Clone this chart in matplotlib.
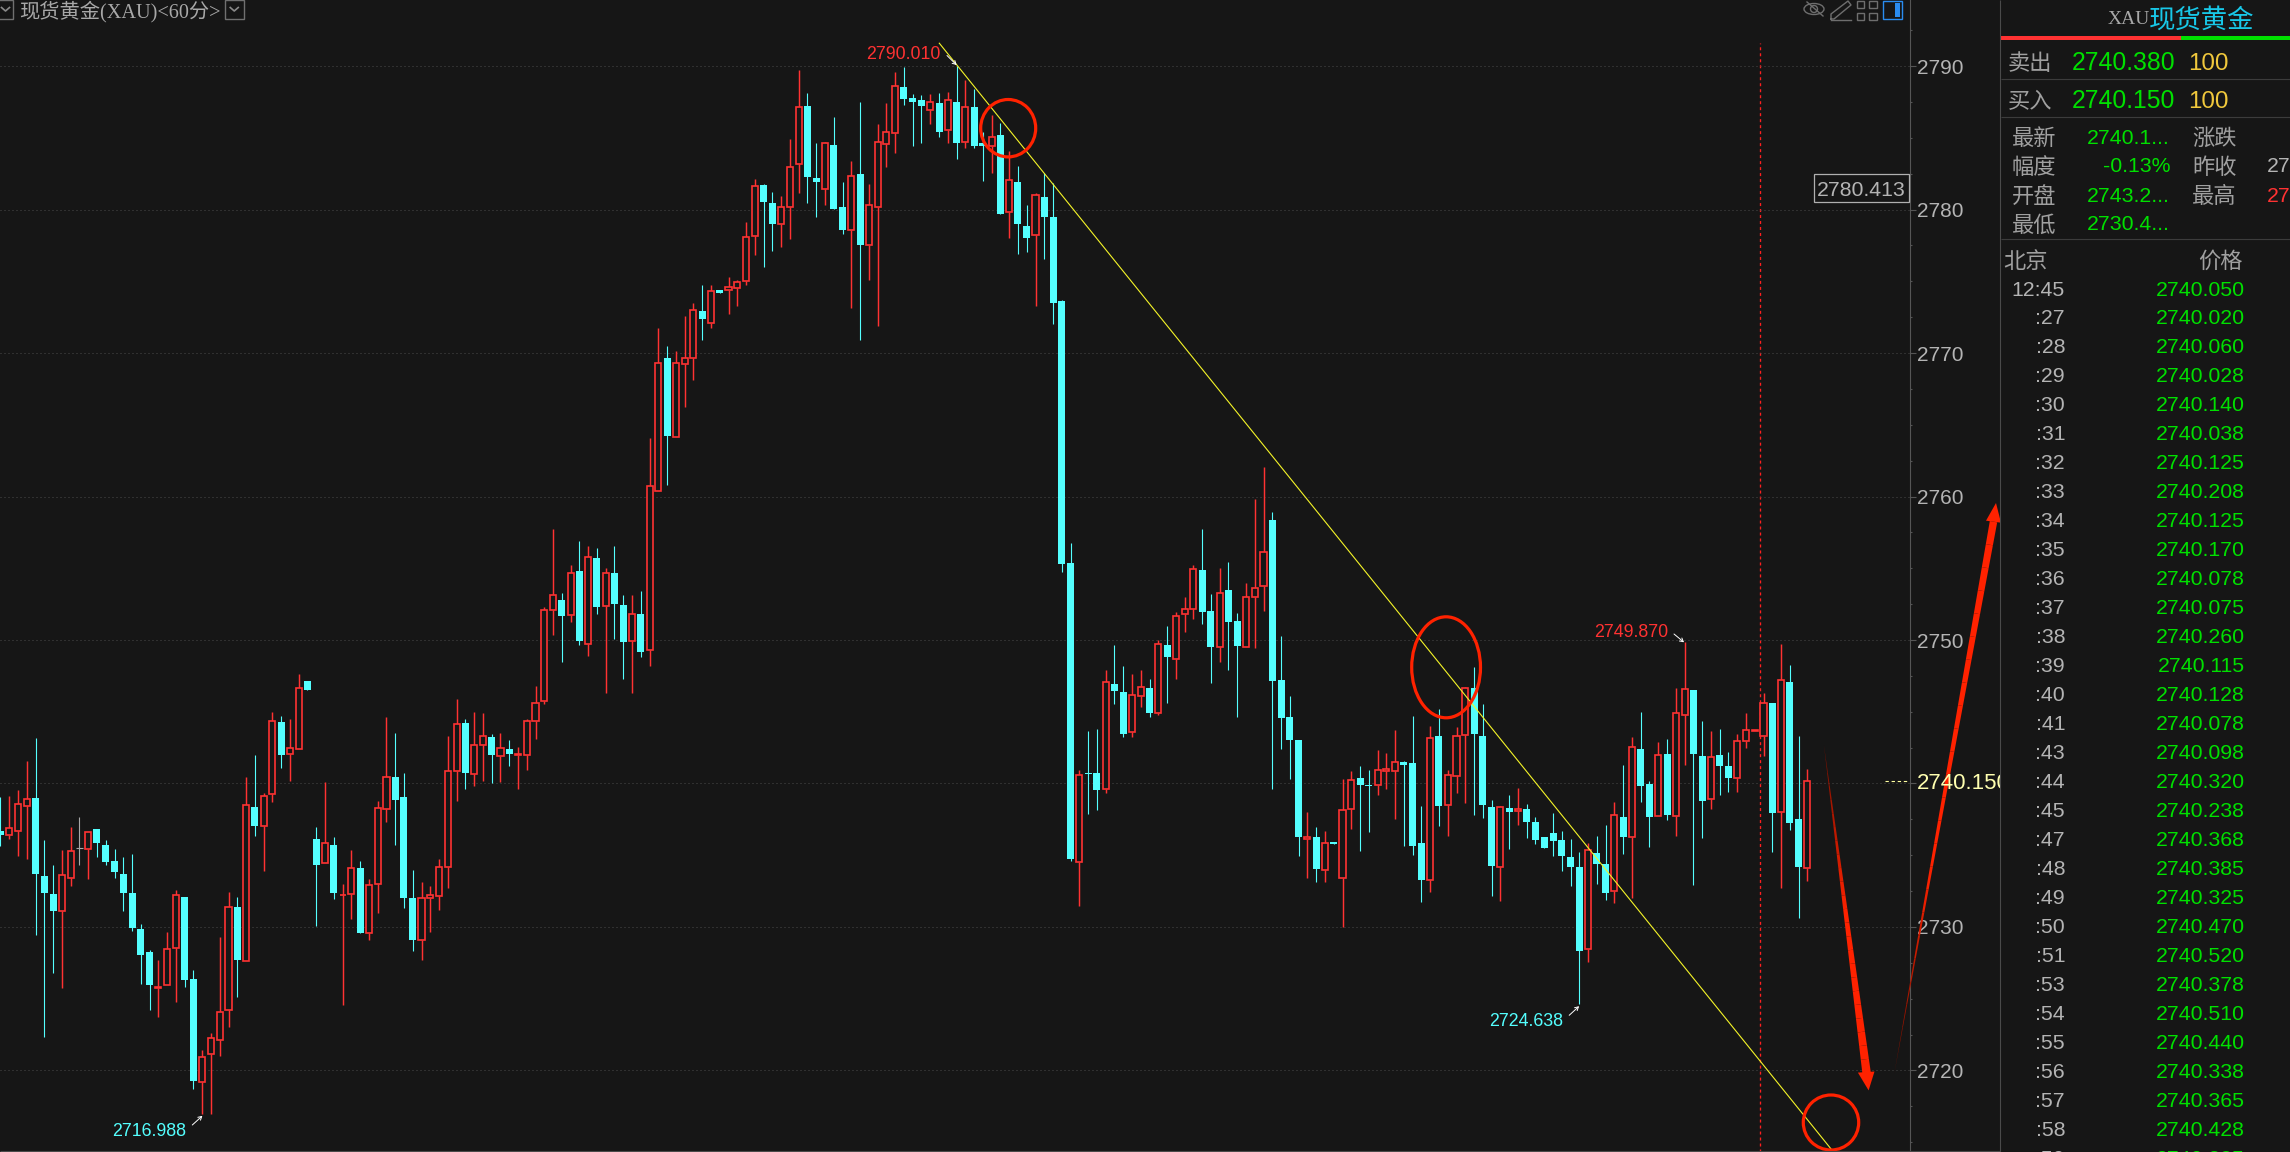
import numpy as np
import matplotlib
matplotlib.use("Agg")
import matplotlib.pyplot as plt
from matplotlib.patches import Ellipse, Rectangle, Polygon
from matplotlib.ticker import FuncFormatter, MultipleLocator

# figure size in pixels
W, H = 2290, 1152
DPI = 100

BG = "#161616"
RED = "#ff3232"
CYAN = "#54ffff"
GREEN = "#00e000"
GRAY = "#b4b4b4"
LINE = "#444444"
MARK = "#ff2200"

LATIN = ["Liberation Sans", "Noto Sans CJK SC"]
CJK = ["Noto Sans CJK SC", "Liberation Sans"]
SERIF = ["Liberation Serif", "Noto Sans CJK SC"]

plt.rcParams["font.family"] = LATIN
plt.rcParams["ytick.alignment"] = "center_baseline"

# 60 minute candles
opens = [
    2736.66, 2736.43, 2736.66, 2738.40, 2739.01, 2733.56, 2732.31, 2731.09, 2733.41, 2735.50,
    2735.47, 2736.81, 2735.73, 2734.60, 2733.70, 2732.37, 2729.87, 2728.28, 2725.75, 2725.93,
    2728.51, 2732.11, 2726.39, 2719.17, 2721.12, 2722.10, 2724.19, 2731.41, 2727.61, 2738.37,
    2737.01, 2739.24, 2744.32, 2742.05, 2742.37, 2747.16, 2736.14, 2734.43, 2735.73, 2732.20,
    2732.28, 2734.14, 2729.61, 2732.98, 2738.20, 2740.46, 2739.07, 2732.02, 2729.06, 2732.05,
    2732.19, 2734.17, 2740.87, 2744.23, 2740.63, 2742.66, 2743.27, 2741.91, 2742.43, 2742.00,
    2741.97, 2744.35, 2745.74, 2752.09, 2752.81, 2751.74, 2754.84, 2749.71, 2755.68, 2752.38,
    2754.70, 2752.47, 2749.94, 2751.83, 2749.30, 2760.39, 2769.63, 2764.15, 2769.26, 2769.66,
    2772.91, 2772.08, 2774.42, 2774.40, 2774.56, 2775.01, 2778.15, 2781.72, 2780.47, 2779.01,
    2780.18, 2783.16, 2787.23, 2782.23, 2781.43, 2784.52, 2780.20, 2778.55, 2782.44, 2777.54,
    2780.18, 2784.57, 2785.34, 2788.54, 2787.77, 2787.63, 2786.94, 2787.45, 2785.53, 2787.50,
    2784.70, 2787.13, 2784.65, 2784.41, 2785.16, 2779.83, 2781.93, 2778.82, 2778.23, 2780.90,
    2779.48, 2773.65, 2755.36, 2734.52, 2740.76, 2740.76, 2739.60, 2746.95, 2746.39, 2743.56,
    2746.09, 2746.67, 2744.88, 2749.66, 2748.66, 2751.79, 2752.14, 2754.88, 2752.02, 2749.54,
    2753.48, 2751.33, 2749.54, 2752.97, 2753.74, 2758.35, 2747.23, 2744.65, 2743.05, 2736.15,
    2736.24, 2733.97, 2735.89, 2733.41, 2738.23, 2740.41, 2739.90, 2739.88, 2740.85, 2740.85,
    2741.52, 2741.45, 2735.82, 2733.29, 2743.33, 2738.49, 2740.53, 2743.35, 2746.67, 2743.33,
    2738.39, 2734.20, 2738.32, 2738.09, 2738.25, 2737.35, 2736.24, 2736.52, 2736.03, 2734.85,
    2734.20, 2728.45, 2735.15, 2734.36, 2732.52, 2737.70, 2736.26, 2742.43, 2739.96, 2737.73,
    2742.09, 2737.73, 2744.77, 2746.53, 2741.93, 2738.91, 2742.01, 2741.25, 2740.36, 2742.96,
    2743.69, 2743.30, 2745.64, 2737.99, 2747.08, 2737.54, 2734.13,
]
highs = [
    2739.04, 2739.15, 2739.56, 2741.59, 2743.19, 2736.08, 2734.34, 2735.35, 2736.95, 2737.68,
    2736.60, 2736.81, 2736.08, 2735.44, 2734.89, 2735.09, 2730.22, 2728.39, 2727.73, 2729.67,
    2732.60, 2732.11, 2727.00, 2721.43, 2722.60, 2729.32, 2732.45, 2732.11, 2740.43, 2742.00,
    2739.33, 2745.01, 2744.72, 2744.46, 2747.65, 2747.16, 2736.98, 2740.11, 2736.28, 2733.01,
    2735.38, 2734.60, 2733.35, 2738.81, 2744.66, 2743.53, 2740.75, 2733.99, 2733.15, 2732.83,
    2734.75, 2743.33, 2745.91, 2744.52, 2745.01, 2744.93, 2743.47, 2743.53, 2743.04, 2742.55,
    2744.49, 2746.81, 2752.32, 2757.77, 2753.31, 2755.22, 2756.87, 2756.58, 2756.44, 2755.02,
    2756.53, 2753.13, 2753.13, 2753.42, 2764.06, 2771.71, 2770.51, 2770.16, 2772.56, 2773.49,
    2774.77, 2774.77, 2774.42, 2775.30, 2775.12, 2779.16, 2782.15, 2781.80, 2781.24, 2780.95,
    2784.94, 2789.74, 2788.14, 2784.60, 2784.73, 2786.46, 2781.93, 2783.35, 2787.50, 2781.80,
    2785.98, 2787.45, 2789.60, 2789.92, 2788.06, 2788.00, 2788.06, 2788.14, 2788.22, 2790.01,
    2789.04, 2788.43, 2785.37, 2786.59, 2786.04, 2784.06, 2783.05, 2780.28, 2781.16, 2782.57,
    2781.88, 2773.70, 2756.75, 2740.94, 2743.68, 2743.82, 2747.92, 2749.66, 2748.20, 2747.64,
    2747.92, 2747.30, 2749.98, 2750.98, 2751.93, 2753.00, 2755.22, 2757.73, 2753.21, 2755.00,
    2755.43, 2751.89, 2753.97, 2759.81, 2762.08, 2758.91, 2750.29, 2746.11, 2743.05, 2738.02,
    2737.00, 2736.70, 2735.89, 2740.34, 2740.90, 2741.25, 2740.97, 2742.34, 2742.15, 2743.75,
    2741.59, 2744.72, 2738.44, 2744.00, 2745.21, 2740.94, 2743.93, 2746.74, 2748.11, 2745.53,
    2738.88, 2738.44, 2739.23, 2739.69, 2738.58, 2737.70, 2736.24, 2737.91, 2736.70, 2736.10,
    2735.23, 2735.86, 2736.31, 2737.12, 2738.73, 2741.30, 2743.27, 2745.00, 2740.20, 2742.90,
    2743.11, 2746.66, 2749.87, 2746.53, 2744.35, 2743.67, 2743.82, 2742.19, 2743.46, 2744.93,
    2743.72, 2746.29, 2745.64, 2749.71, 2748.27, 2743.30, 2741.01,
]
lows = [
    2735.64, 2736.14, 2734.98, 2734.72, 2729.41, 2722.36, 2726.80, 2725.73, 2732.83, 2734.34,
    2733.33, 2734.89, 2734.34, 2733.44, 2731.09, 2729.70, 2726.05, 2724.25, 2723.76, 2725.93,
    2724.77, 2725.84, 2718.68, 2716.99, 2717.00, 2721.00, 2723.03, 2725.12, 2727.61, 2736.37,
    2733.91, 2738.69, 2741.10, 2740.20, 2742.37, 2746.55, 2730.08, 2734.43, 2731.96, 2724.57,
    2730.57, 2729.61, 2729.06, 2730.98, 2737.33, 2735.73, 2731.32, 2728.34, 2727.73, 2729.64,
    2731.15, 2732.75, 2738.75, 2739.59, 2739.85, 2740.20, 2740.02, 2740.11, 2741.24, 2739.59,
    2740.95, 2743.13, 2745.51, 2750.38, 2748.49, 2751.22, 2749.62, 2748.90, 2751.83, 2746.29,
    2750.09, 2747.25, 2746.32, 2748.84, 2748.20, 2760.39, 2760.79, 2764.15, 2766.25, 2768.11,
    2770.91, 2771.73, 2774.18, 2772.72, 2773.28, 2774.74, 2776.82, 2775.99, 2777.09, 2777.38,
    2777.94, 2781.14, 2780.44, 2779.46, 2780.31, 2780.02, 2778.29, 2773.12, 2770.91, 2775.09,
    2771.87, 2782.95, 2783.93, 2787.26, 2784.41, 2784.65, 2785.93, 2785.02, 2784.62, 2783.51,
    2784.28, 2784.28, 2781.96, 2782.52, 2779.67, 2777.99, 2776.90, 2777.03, 2773.28, 2776.58,
    2772.03, 2754.77, 2734.59, 2731.46, 2737.84, 2738.14, 2739.37, 2745.56, 2743.22, 2743.26,
    2745.30, 2744.65, 2744.75, 2745.63, 2747.30, 2750.59, 2751.47, 2751.12, 2747.02, 2748.50,
    2747.92, 2744.65, 2749.54, 2749.45, 2752.00, 2739.65, 2742.43, 2740.30, 2734.92, 2733.39,
    2733.11, 2733.11, 2735.77, 2729.98, 2736.86, 2735.27, 2736.59, 2739.23, 2739.60, 2737.56,
    2735.61, 2734.99, 2731.72, 2732.41, 2737.07, 2736.31, 2739.37, 2738.63, 2737.79, 2737.63,
    2732.16, 2731.81, 2735.47, 2737.10, 2736.17, 2735.75, 2735.50, 2734.92, 2733.87, 2732.85,
    2724.64, 2727.53, 2732.97, 2731.87, 2731.66, 2735.07, 2731.99, 2738.73, 2735.55, 2737.73,
    2737.44, 2736.33, 2741.27, 2732.92, 2736.23, 2738.20, 2739.22, 2739.43, 2739.43, 2742.46,
    2743.69, 2741.91, 2735.20, 2732.71, 2736.75, 2730.61, 2733.18,
]
closes = [
    2736.43, 2736.89, 2738.57, 2738.92, 2733.67, 2732.34, 2731.09, 2733.62, 2735.27, 2735.50,
    2736.60, 2735.82, 2734.54, 2733.82, 2732.34, 2729.90, 2728.08, 2725.93, 2725.79, 2728.45,
    2732.22, 2726.28, 2719.29, 2720.97, 2722.25, 2724.05, 2731.38, 2727.67, 2738.49, 2737.01,
    2739.13, 2744.35, 2741.97, 2742.46, 2746.64, 2746.55, 2734.34, 2735.85, 2732.37, 2732.25,
    2734.11, 2729.61, 2732.92, 2738.28, 2740.43, 2738.84, 2732.00, 2729.12, 2732.00, 2732.22,
    2734.17, 2740.87, 2744.14, 2740.72, 2742.66, 2743.30, 2741.97, 2742.46, 2742.03, 2742.03,
    2744.35, 2745.59, 2752.09, 2753.13, 2751.65, 2754.67, 2749.91, 2755.80, 2752.32, 2754.67,
    2752.49, 2749.86, 2751.80, 2749.16, 2760.70, 2769.31, 2764.22, 2769.31, 2769.66, 2773.01,
    2772.37, 2774.34, 2774.18, 2774.61, 2774.96, 2778.10, 2781.64, 2780.50, 2778.98, 2780.18,
    2782.97, 2787.13, 2782.25, 2781.91, 2784.62, 2780.02, 2778.55, 2782.33, 2777.51, 2780.31,
    2784.70, 2785.40, 2788.59, 2787.69, 2787.47, 2787.18, 2787.47, 2785.37, 2787.63, 2784.62,
    2787.13, 2784.41, 2784.41, 2785.05, 2779.67, 2782.07, 2778.98, 2777.99, 2781.00, 2779.46,
    2773.49, 2755.30, 2734.71, 2740.62, 2740.64, 2739.53, 2747.06, 2746.48, 2743.47, 2746.16,
    2746.72, 2744.93, 2749.71, 2748.82, 2751.65, 2752.14, 2754.92, 2751.96, 2749.52, 2753.25,
    2751.26, 2749.59, 2752.97, 2753.60, 2756.10, 2747.11, 2744.58, 2743.05, 2736.26, 2736.29,
    2734.04, 2735.87, 2735.77, 2738.16, 2740.25, 2739.88, 2739.85, 2740.94, 2741.01, 2741.50,
    2741.32, 2735.61, 2733.27, 2743.17, 2738.42, 2740.60, 2743.31, 2746.65, 2743.42, 2738.49,
    2734.25, 2738.37, 2738.00, 2738.23, 2737.30, 2736.03, 2735.50, 2735.96, 2734.94, 2734.15,
    2728.32, 2735.36, 2734.42, 2732.39, 2737.81, 2736.26, 2742.54, 2739.80, 2737.70, 2741.98,
    2737.83, 2744.90, 2746.58, 2742.04, 2738.80, 2741.85, 2741.20, 2740.36, 2742.96, 2743.72,
    2743.72, 2745.61, 2737.91, 2747.21, 2737.23, 2734.15, 2740.17,
]

# trend line end points (candle number, price)
trend_x = [107.03, 208.7]
trend_y = [2791.59, 2714.53]

bid_price = 2740.15
cursor_candle = 200.64

# quote list on the right
tape_times = [
    "12:45", ":27", ":28", ":29", ":30", ":31", ":32", ":33", ":34", ":35", ":36",
    ":37", ":38", ":39", ":40", ":41", ":43", ":44", ":45", ":47", ":48", ":49",
    ":50", ":51", ":53", ":54", ":55", ":56", ":57", ":58", ":59",
]
tape_prices = [
    "2740.050", "2740.020", "2740.060", "2740.028", "2740.140", "2740.038", "2740.125",
    "2740.208", "2740.125", "2740.170", "2740.078", "2740.075", "2740.260", "2740.115",
    "2740.128", "2740.078", "2740.098", "2740.320", "2740.238", "2740.368", "2740.385",
    "2740.325", "2740.470", "2740.520", "2740.378", "2740.510", "2740.440", "2740.338",
    "2740.365", "2740.428", "2740.385",
]

opens = np.array(opens)
highs = np.array(highs)
lows = np.array(lows)
closes = np.array(closes)
idx = np.arange(len(opens))

fig = plt.figure(figsize=(W / DPI, H / DPI), dpi=DPI, facecolor=BG)

# main chart, 1 px of the axes is one px of the screenshot
ax = fig.add_axes([0, 0, 1910 / W, 1], facecolor=BG)
ax.set_xlim(-0.057, 217.7)
ax.set_ylim(2714.32, 2794.6)

ax.yaxis.tick_right()
ax.yaxis.set_major_locator(MultipleLocator(10))
ax.yaxis.set_minor_locator(MultipleLocator(2.5))
# the 2740 label sits under the bid price text, so it stays empty
ax.yaxis.set_major_formatter(FuncFormatter(lambda v, pos: "" if round(v) == 2740 else f"{v:.0f}"))
ax.tick_params(axis="y", which="major", length=4.3, width=0.8, color="#555555",
               labelcolor=GRAY, labelsize=15, pad=1)
ax.tick_params(axis="y", which="minor", length=1.6, width=0.8, color="#555555")
ax.tick_params(axis="x", which="both", bottom=False, labelbottom=False)
for name, spine in ax.spines.items():
    spine.set_visible(name == "right")
    spine.set_color("#555555")
    spine.set_linewidth(0.8)
ax.grid(axis="y", which="major", color="#4a4a4a", linewidth=0.72, linestyle=(0, (1, 3)), zorder=0)

# dashed cursor line
ax.vlines(cursor_candle, 2714.32, 2791.6, color="#ff2020", linewidth=0.95,
          linestyle=(0, (2.27, 2.27)), zorder=1)

# candles
up = closes > opens
down = closes < opens
flat = closes == opens

ax.vlines(idx[down], lows[down], highs[down], color=CYAN, linewidth=0.8, zorder=2)
ax.bar(idx[down], (opens - closes)[down], bottom=closes[down], width=0.8, color=CYAN,
       linewidth=0, zorder=3)

ax.vlines(idx[up], lows[up], opens[up], color=RED, linewidth=1.05, zorder=2)
ax.vlines(idx[up], closes[up], highs[up], color=RED, linewidth=1.05, zorder=2)
ax.bar(idx[up], (closes - opens)[up], bottom=opens[up], width=0.7, facecolor=BG,
       edgecolor=RED, linewidth=1.2, zorder=3)

ax.vlines(idx[flat], lows[flat], highs[flat], color="#a8a8a8", linewidth=0.8, zorder=2)
ax.hlines(closes[flat], idx[flat] - 0.4, idx[flat] + 0.4, color="#a8a8a8", linewidth=0.8, zorder=3)

# trend line
ax.plot(trend_x, trend_y, color="#f4f428", linewidth=0.8, zorder=4)

# bid marker on the axis
ax.hlines(bid_price, 214.9, 217.6, color="#ffffa0", linewidth=0.8, linestyle=(0, (3, 2.5)), zorder=4)

# everything else is placed in screen pixels on an overlay
ov = fig.add_axes([0, 0, 1, 1], facecolor="none")
ov.set_xlim(0, W)
ov.set_ylim(H, 0)
ov.axis("off")


def label(x, y, s, color, size, family=LATIN, ha="left", **kw):
    return ov.text(x, y, s, color=color, fontsize=size, family=family, ha=ha,
                   va="center_baseline", **kw)


def hline(x0, x1, y, color=LINE, lw=0.8):
    ov.plot([x0, x1], [y, y], color=color, linewidth=lw, solid_capstyle="butt")


def vline(x, y0, y1, color=LINE, lw=0.8):
    ov.plot([x, x], [y0, y1], color=color, linewidth=lw, solid_capstyle="butt")


def hand_arrow(start, shaft_end, left, right, tip, width, fade):
    # tapered stroke, dark and thin at the start, with a solid head
    start = np.array(start, dtype=float)
    shaft_end = np.array(shaft_end, dtype=float)
    direction = shaft_end - start
    normal = np.array([-direction[1], direction[0]]) / np.hypot(*direction)
    dark = np.array(matplotlib.colors.to_rgb("#7a1000"))
    bright = np.array(matplotlib.colors.to_rgb(MARK))
    steps = np.linspace(0, 1, 25)
    for t0, t1 in zip(steps[:-1], steps[1:]):
        p0 = start + direction * t0
        p1 = start + direction * t1
        w0 = width / 2 * t0
        w1 = width / 2 * t1
        mix = min(t0 / fade, 1.0)
        ov.add_patch(Polygon([p0 - normal * w0, p1 - normal * w1, p1 + normal * w1, p0 + normal * w0],
                             closed=True, facecolor=dark + (bright - dark) * mix, edgecolor="none"))
    ov.add_patch(Polygon([left, tip, right], closed=True, facecolor=MARK, edgecolor="none"))


# right hand panel rules
vline(2000, 0, H, color="#4a4a4a")
hline(0, 2000, 1151, color="#4a4a4a")

# high / low labels with their little arrows
for x, y, text, color, tail, head in [
    (866.6, 52.4, "2790.010", RED, (947, 55.5), (956.6, 65)),
    (112, 1130, "2716.988", CYAN, (192.3, 1125), (202.4, 1115.8)),
    (1489.4, 1019.4, "2724.638", CYAN, (1569.2, 1015.3), (1579.1, 1006.2)),
    (1594.5, 630.6, "2749.870", RED, (1674, 634), (1684, 642.3)),
]:
    label(x, y, text, color, 12.8)
    ov.annotate("", xy=head, xytext=tail,
                arrowprops=dict(arrowstyle="->,head_length=0.35,head_width=0.2", color="white",
                                lw=0.7, shrinkA=0, shrinkB=0, mutation_scale=7))

# boxed price
ov.add_patch(Rectangle((1814, 174), 95, 28, facecolor=BG, edgecolor="#b0b0b0", linewidth=0.9))
label(1861.5, 188, "2780.413", GRAY, 15.3, ha="center")

# bid price, clipped by the panel border
bid_text = label(1917, 781, "2740.150", "#ffffb0", 16)
bid_text.set_clip_path(Rectangle((1910, 760), 90, 50, transform=ov.transData))
bid_text.set_clip_on(True)

# hand drawn circles
for cx, cy, w, h in [(1008.2, 128.2, 55, 57.4), (1446.1, 667.3, 68.8, 101), (1831, 1122.5, 55.4, 55)]:
    ov.add_patch(Ellipse((cx, cy), w, h, facecolor="none", edgecolor=MARK, linewidth=2.3))

# hand drawn arrows
hand_arrow((1823.9, 745), (1866.6, 1073), (1857.9, 1072.6), (1874.5, 1071.5), (1868.6, 1090.4), 8.5, 0.5)
hand_arrow((1894.3, 1073.4), (1993.5, 521.7), (1986, 520.7), (2001, 522.7), (1996, 503), 7.5, 0.35)

# title bar
label(19, 9, "现货黄金(XAU)<60分>", "#a8a8a8", 14.6, family=SERIF)
for x0, x1 in [(-2, 13), (224.5, 244)]:
    ov.add_patch(Rectangle((x0, 0), x1 - x0, 18.5, facecolor="none", edgecolor="#707070", linewidth=1.0))
    xm = (x0 + x1) / 2
    ov.plot([xm - 4, xm, xm + 4], [7.5, 11, 7.5], color="#8a8a8a", linewidth=1.2)

# toolbar icons
ICON = "#6e6e6e"
ov.add_patch(Ellipse((1814, 9), 20, 11, facecolor="none", edgecolor=ICON, linewidth=1.0))
ov.add_patch(Ellipse((1814, 9), 7, 7, facecolor="none", edgecolor=ICON, linewidth=1.0))
ov.plot([1807, 1823], [2, 16], color=ICON, linewidth=1.0)
ov.plot([1831, 1831, 1848, 1851, 1834, 1831], [19, 14, 1, 5, 19, 19], color=ICON, linewidth=1.0)
ov.plot([1831, 1851], [19.5, 19.5], color=ICON, linewidth=1.0)
for sx in (1856.5, 1869):
    for sy in (1, 12.5):
        ov.add_patch(Rectangle((sx, sy), 7.5, 7, facecolor="none", edgecolor=ICON, linewidth=1.0))
ov.add_patch(Rectangle((1882.5, 0.5), 19, 18.5, facecolor="none", edgecolor="#2a8cf0", linewidth=1.0))
ov.add_patch(Rectangle((1895, 3), 4.5, 14, facecolor="#2a8cf0", edgecolor="none"))

# quote panel header
label(2108, 17, "XAU", "#a8a8a8", 14, family=SERIF)
label(2149, 17, "现货黄金", "#18c8e8", 19, family=CJK)
ov.add_patch(Rectangle((2001, 36), 180, 4, facecolor=RED, edgecolor="none"))
ov.add_patch(Rectangle((2181, 36), 109, 4, facecolor="#00e000", edgecolor="none"))

# bid / ask rows
label(2008, 61, "卖出", "#a0a0a0", 16, family=CJK)
label(2072, 61, "2740.380", GREEN, 17.8)
label(2188, 61, "100", "#f0c83c", 17.4)
hline(2001, W, 78.7, color="#3c3c3c")
label(2008, 99, "买入", "#a0a0a0", 16, family=CJK)
label(2072, 99, "2740.150", GREEN, 17.8)
label(2188, 99, "100", "#f0c83c", 17.4)
hline(2001, W, 116.7, color="#3c3c3c")

# stats block
label(2012, 136, "最新", "#a0a0a0", 16, family=CJK)
label(2170, 136, "2740.1...", GREEN, 15.3, ha="right")
label(2192, 136, "涨跌", "#a0a0a0", 16, family=CJK)
label(2012, 165, "幅度", "#a0a0a0", 16, family=CJK)
label(2170, 165, "-0.13%", GREEN, 15.3, ha="right")
label(2192, 165, "昨收", "#a0a0a0", 16, family=CJK)
label(2267, 165, "27", GRAY, 15.3)
label(2012, 194, "开盘", "#a0a0a0", 16, family=CJK)
label(2170, 194, "2743.2...", GREEN, 15.3, ha="right")
label(2192, 194, "最高", "#a0a0a0", 16, family=CJK)
label(2267, 194, "27", RED, 15.3)
label(2012, 223, "最低", "#a0a0a0", 16, family=CJK)
label(2170, 223, "2730.4...", GREEN, 15.3, ha="right")
hline(2001, W, 239, color="#3c3c3c")

label(2003, 259, "北京", "#a0a0a0", 16, family=CJK)
label(2243, 259, "价格", "#a0a0a0", 16, family=CJK, ha="right")

# time and sales tape
for row, (t, p) in enumerate(zip(tape_times, tape_prices)):
    y = 288 + row * 28.98
    label(2065, y, t, GRAY, 15.3, ha="right")
    label(2245, y, p, GREEN, 15.3, ha="right")

fig.savefig("out.png", dpi=DPI, facecolor=BG)
